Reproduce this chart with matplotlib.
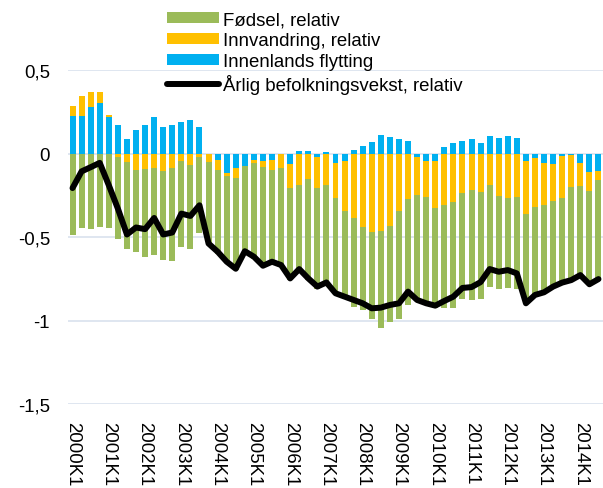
import numpy as np
import matplotlib
matplotlib.use('Agg')
import matplotlib.pyplot as plt
from matplotlib.ticker import FuncFormatter

plt.rcParams['font.family'] = ['Liberation Sans', 'DejaVu Sans']

# quarters 2000K1 .. 2014K3
quarters = [str(y) + 'K' + str(q) for y in range(2000, 2015) for q in range(1, 5)][:59]

# relative contributions
fodsel = [-0.489, -0.449, -0.453, -0.438, -0.444, -0.491, -0.521, -0.492, -0.527, -0.521,
          -0.533, -0.556, -0.515, -0.505, -0.459, -0.500, -0.500, -0.513, -0.556, -0.523,
          -0.576, -0.598, -0.564, -0.594, -0.553, -0.513, -0.605, -0.600, -0.590, -0.583,
          -0.528, -0.534, -0.502, -0.522, -0.581, -0.572, -0.645, -0.635, -0.633, -0.644,
          -0.596, -0.616, -0.630, -0.632, -0.656, -0.642, -0.610, -0.558, -0.538, -0.548,
          -0.515, -0.527, -0.523, -0.515, -0.515, -0.561, -0.547, -0.558, -0.590]
innvandring = [0.060, 0.117, 0.090, 0.066, 0.012, -0.018, -0.050, -0.099, -0.093, -0.089,
               -0.105, -0.086, -0.046, -0.066, -0.020, -0.050, -0.062, -0.022, -0.056, -0.005,
               -0.016, -0.038, -0.058, -0.086, -0.143, -0.187, -0.155, -0.191, -0.189, -0.211,
               -0.300, -0.384, -0.438, -0.472, -0.464, -0.436, -0.347, -0.273, -0.229, -0.217,
               -0.281, -0.307, -0.293, -0.239, -0.221, -0.229, -0.187, -0.253, -0.269, -0.263,
               -0.321, -0.297, -0.249, -0.221, -0.253, -0.189, -0.135, -0.110, -0.054]
innenlands = [0.227, 0.225, 0.280, 0.304, 0.221, 0.171, 0.086, 0.143, 0.169, 0.217,
              0.157, 0.169, 0.189, 0.199, 0.157, 0.000, -0.038, -0.115, -0.088, -0.072,
              -0.038, -0.044, -0.038, 0.000, -0.064, 0.012, 0.012, -0.018, 0.010, -0.056,
              -0.042, 0.022, 0.044, 0.066, 0.112, 0.100, 0.088, 0.073, -0.018, -0.044,
              -0.046, 0.038, 0.062, 0.072, 0.088, 0.064, 0.104, 0.092, 0.104, 0.090,
              -0.044, -0.026, -0.058, -0.064, -0.012, -0.010, -0.058, -0.112, -0.106]
vekst = [-0.207, -0.107, -0.082, -0.056, -0.190, -0.330, -0.485, -0.443, -0.453, -0.386,
         -0.485, -0.473, -0.360, -0.374, -0.310, -0.539, -0.588, -0.648, -0.690, -0.585,
         -0.618, -0.672, -0.648, -0.668, -0.748, -0.692, -0.748, -0.797, -0.772, -0.837,
         -0.857, -0.877, -0.897, -0.927, -0.923, -0.907, -0.897, -0.827, -0.877, -0.897,
         -0.911, -0.883, -0.857, -0.805, -0.800, -0.770, -0.692, -0.708, -0.698, -0.718,
         -0.897, -0.847, -0.831, -0.797, -0.773, -0.758, -0.728, -0.783, -0.752]

fs = 13.4

fig = plt.figure(figsize=(6.03, 4.89), dpi=100)
ax = fig.add_axes([68 / 603, 1 - 405 / 489, 1 - 68 / 603, (405 - 71) / 489])

x = np.arange(len(quarters))
pos_base = np.zeros(len(x))
neg_base = np.zeros(len(x))
# stacking order from zero outwards: blue, orange, green
series = [(innenlands, '#00B0F0', 'Innenlands flytting'),
          (innvandring, '#FFC000', 'Innvandring, relativ'),
          (fodsel, '#9BBB59', 'Fødsel, relativ')]
handles = {}
for vals, col, lab in series:
    v = np.array(vals)
    bottom = np.where(v >= 0, pos_base, neg_base)
    h = ax.bar(x, v, bottom=bottom, width=0.66, color=col, label=lab, zorder=2)
    handles[lab] = h
    pos_base = pos_base + np.where(v >= 0, v, 0)
    neg_base = neg_base + np.where(v < 0, v, 0)

line, = ax.plot(x, vekst, color='black', lw=4.3, solid_joinstyle='round',
                solid_capstyle='round', zorder=3, label='Årlig befolkningsvekst, relativ')

ax.set_xlim(-0.5, 58.5)
ax.set_ylim(-1.5, 0.5)
ax.set_yticks([0.5, 0, -0.5, -1, -1.5])
ax.yaxis.set_major_formatter(FuncFormatter(lambda v, p: ('%g' % v).replace('.', ',')))
ax.grid(axis='y', color='#D9E1EE', lw=1.2, zorder=0)
ax.set_axisbelow(True)
for s in ax.spines.values():
    s.set_visible(False)
ax.set_xticks(x[::4])
ax.set_xticklabels(quarters[::4], rotation=270, va='top', ha='center')
ax.tick_params(axis='y', length=0, pad=13, labelsize=fs)
ax.tick_params(axis='x', length=0, pad=12, labelsize=fs)

leg = ax.legend([handles['Fødsel, relativ'], handles['Innvandring, relativ'],
                 handles['Innenlands flytting'], line],
                ['Fødsel, relativ', 'Innvandring, relativ', 'Innenlands flytting',
                 'Årlig befolkningsvekst, relativ'],
                loc='upper left', bbox_to_anchor=(167 / 603, 1 - 12 / 489),
                bbox_transform=fig.transFigure, frameon=False, fontsize=fs,
                handlelength=2.8, handleheight=0.54, handletextpad=0.2,
                labelspacing=0.22, borderpad=0, borderaxespad=0)

fig.savefig('out.png', dpi=100)
